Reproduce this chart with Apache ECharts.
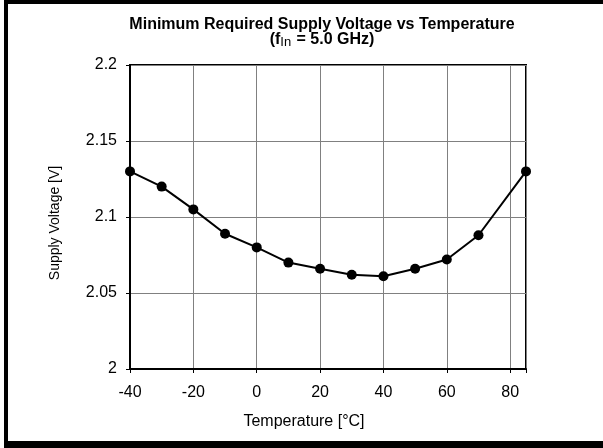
<!DOCTYPE html>
<html>
<head>
<meta charset="utf-8">
<script src="https://cdn.jsdelivr.net/npm/echarts@6/dist/echarts.min.js"></script>
<style>
  html, body { margin: 0; padding: 0; background: #fff; }
  #wrap { position: relative; width: 603px; height: 448px; overflow: hidden; }
  #chart { position: absolute; left: 0; top: 0; width: 603px; height: 448px; }
  #frame { position: absolute; left: 4px; top: 0; width: 700px; height: 448px; box-sizing: border-box;
           border-style: solid; border-color: #000; border-width: 4px 0 7px 4px; pointer-events: none; }
</style>
</head>
<body>
<div id="wrap">
  <div id="chart"></div>
  <div id="frame"></div>
</div>
<script>
const temperatures = [-40, -30, -20, -10, 0, 10, 20, 30, 40, 50, 60, 70, 85];
const voltages = [2.130, 2.120, 2.105, 2.089, 2.080, 2.070, 2.066, 2.062, 2.061, 2.066, 2.072, 2.088, 2.130];
const xTicks = [-40, -20, 0, 20, 40, 60, 80];
const yTicks = [2, 2.05, 2.1, 2.15, 2.2];

const FONT = "'Liberation Sans', Arial, sans-serif";
const chart = echarts.init(document.getElementById('chart'), null, { renderer: 'canvas' });

chart.setOption({
  animation: false,
  backgroundColor: '#fff',
  textStyle: { fontFamily: FONT, color: '#000' },
  title: {
    left: 317,
    top: 12,
    textAlign: 'center',
    text: '{t|Minimum Required Supply Voltage vs Temperature}\n{t|(f}{s|In}{t| = 5.0 GHz)}',
    textStyle: {
      rich: {
        t: { fontFamily: FONT, fontSize: 16, fontWeight: 'bold', color: '#000', lineHeight: 15 },
        s: { fontFamily: FONT, fontSize: 13, fontWeight: 'normal', color: '#000', lineHeight: 15, padding: [6, 1, 0, 0] }
      }
    }
  },
  grid: {
    left: 130, right: 77, top: 65, bottom: 79,
    show: true, borderColor: '#000', borderWidth: 2, backgroundColor: 'transparent'
  },
  xAxis: {
    type: 'value',
    min: xTicks[0],
    max: 85,
    interval: 20,
    name: 'Temperature [°C]',
    nameLocation: 'middle',
    nameGap: 45,
    nameTextStyle: { fontFamily: FONT, fontSize: 16, color: '#000', padding: [0, 48, 0, 0] },
    axisLine: { show: true, onZero: false, lineStyle: { color: '#000', width: 2 } },
    axisTick: { show: true, inside: false, length: 4, lineStyle: { color: '#000', width: 1 } },
    axisLabel: {
      fontFamily: FONT, fontSize: 16, color: '#000', margin: 16,
      formatter: function (v) { return xTicks.indexOf(v) >= 0 ? String(v) : ''; }
    },
    splitLine: { show: true, lineStyle: { color: '#808080', width: 1 } }
  },
  yAxis: {
    type: 'value',
    min: yTicks[0],
    max: yTicks[yTicks.length - 1],
    interval: 0.05,
    name: 'Supply Voltage [V]',
    nameLocation: 'middle',
    nameGap: 68,
    nameTextStyle: { fontFamily: FONT, fontSize: 14, color: '#000', padding: [0, 12, 0, 0] },
    axisLine: { show: true, onZero: false, lineStyle: { color: '#000', width: 2 } },
    axisTick: { show: true, inside: false, length: 4, lineStyle: { color: '#000', width: 1 } },
    axisLabel: {
      fontFamily: FONT, fontSize: 16, color: '#000', margin: 13, padding: [2, 0, 0, 0],
      formatter: function (v) { return String(parseFloat(v.toFixed(2))); }
    },
    splitLine: { show: true, lineStyle: { color: '#808080', width: 1 } }
  },
  series: [{
    type: 'line',
    data: temperatures.map((t, i) => [t, voltages[i]]),
    symbol: 'circle',
    symbolSize: 10,
    lineStyle: { color: '#000', width: 2 },
    itemStyle: { color: '#000' },
    clip: false
  }]
});
</script>
</body>
</html>
